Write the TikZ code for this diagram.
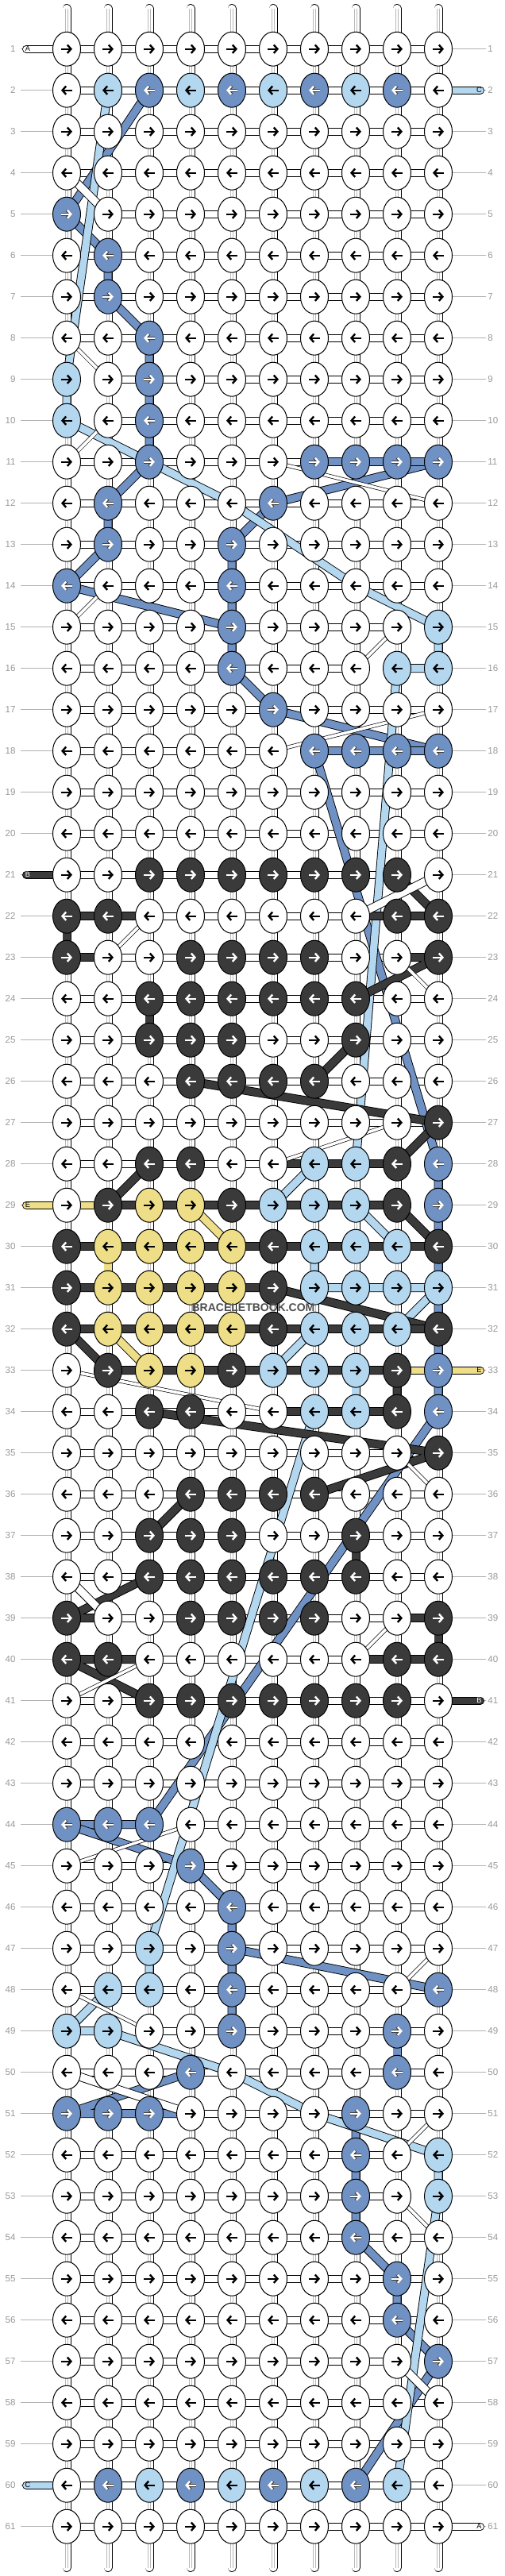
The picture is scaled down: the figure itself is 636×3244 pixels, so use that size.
\documentclass[tikz,border=0pt]{standalone}
\usepackage{fontspec}
\setmainfont{Liberation Sans}
\usetikzlibrary{shapes.geometric, arrows.meta, calc}
\definecolor{cw}{HTML}{FFFFFF}
\definecolor{cl}{HTML}{B4D7F0}
\definecolor{cm}{HTML}{7091C3}
\definecolor{cd}{HTML}{3A3A3A}
\definecolor{cy}{HTML}{EEDE88}
\pgfdeclarelayer{conn}
\pgfdeclarelayer{thread}
\pgfsetlayers{conn,thread,main}

\begin{document}
\begin{tikzpicture}[x=0.5pt, y=-0.5pt,
        hcon/.style={draw=black, line width=0.45pt, double=white, double distance=4.1pt},
        vcon/.style={draw=black, line width=0.45pt, double=white, double distance=4.6pt},
        vmid/.style={draw=gray!55, line width=0.3pt, double=white, double distance=1pt},
        thread/.style={draw=black, line width=0.45pt, double=#1, double distance=4.6pt, line join=round},
        wire/.style={draw=black, line width=0.35pt, double=white, double distance=1.8pt},
        tail/.style={draw=black, line width=0.45pt, double=#1, double distance=4.1pt, line cap=round},
        rowline/.style={draw=gray!60, line width=0.5pt},
        rowlab/.style={text=gray!80, inner sep=0pt, font=\fontsize{5.8pt}{6pt}\selectfont},
        taillab/.style={inner sep=0pt, font=\fontsize{4.6pt}{5pt}\selectfont},
        arw/.style={draw=black, line width=1.2pt, -{Straight Barb[length=2.3pt,width=5.2pt]}},
        arl/.style={arw}, ary/.style={arw},
        ard/.style={arw, draw=white},
        arm/.style={arw, draw=white, preaction={draw=black!75, line width=1.8pt, -{Straight Barb[length=2.3pt,width=5.2pt]}}}]
    \tikzstyle{knot}=[ellipse, draw=black, line width=0.5pt, minimum width=17.5pt, minimum height=21.5pt, inner sep=0pt]
    \tikzstyle{kw}=[knot, fill=cw]
    \tikzstyle{kl}=[knot, fill=cl]
    \tikzstyle{km}=[knot, fill=cm]
    \tikzstyle{kd}=[knot, fill=cd]
    \tikzstyle{ky}=[knot, fill=cy]
    \useasboundingbox (0,0) rectangle (636,3244);

    % knots, one row at a time
    \foreach \r/\row in {
        1/{w,w,w,w,w,w,w,w,w,w}, 2/{w,l,m,l,m,l,m,l,m,w}, 3/{w,w,w,w,w,w,w,w,w,w},
        4/{w,w,w,w,w,w,w,w,w,w}, 5/{m,w,w,w,w,w,w,w,w,w}, 6/{w,m,w,w,w,w,w,w,w,w},
        7/{w,m,w,w,w,w,w,w,w,w}, 8/{w,w,m,w,w,w,w,w,w,w}, 9/{l,w,m,w,w,w,w,w,w,w},
        10/{l,w,m,w,w,w,w,w,w,w}, 11/{w,w,m,w,w,w,m,m,m,m}, 12/{w,m,w,w,w,m,w,w,w,w},
        13/{w,m,w,w,m,w,w,w,w,w}, 14/{m,w,w,w,m,w,w,w,w,w}, 15/{w,w,w,w,m,w,w,w,w,l},
        16/{w,w,w,w,m,w,w,w,l,l}, 17/{w,w,w,w,w,m,w,w,w,w}, 18/{w,w,w,w,w,w,m,m,m,m},
        19/{w,w,w,w,w,w,w,w,w,w}, 20/{w,w,w,w,w,w,w,w,w,w}, 21/{w,w,d,d,d,d,d,d,d,w},
        22/{d,d,w,w,w,w,w,w,d,d}, 23/{d,w,w,d,d,d,d,w,w,d}, 24/{w,w,d,d,d,d,d,d,w,w},
        25/{w,w,d,d,d,w,w,d,w,w}, 26/{w,w,w,d,d,d,d,w,w,w}, 27/{w,w,w,w,w,w,w,w,w,d},
        28/{w,w,d,d,w,w,l,l,d,m}, 29/{w,d,y,y,d,l,l,l,d,m}, 30/{d,y,y,y,y,d,l,l,l,d},
        31/{d,y,y,y,y,d,l,l,l,l}, 32/{d,y,y,y,y,d,l,l,l,d}, 33/{w,d,y,y,d,l,l,l,d,m},
        34/{w,w,d,d,w,w,l,l,d,m}, 35/{w,w,w,w,w,w,w,w,w,d}, 36/{w,w,w,d,d,d,d,w,w,w},
        37/{w,w,d,d,d,w,w,d,w,w}, 38/{w,w,d,d,d,d,d,d,w,w}, 39/{d,w,w,d,d,d,d,w,w,d},
        40/{d,d,w,w,w,w,w,w,d,d}, 41/{w,w,d,d,d,d,d,d,d,w}, 42/{w,w,w,w,w,w,w,w,w,w},
        43/{w,w,w,w,w,w,w,w,w,w}, 44/{m,m,m,w,w,w,w,w,w,w}, 45/{w,w,w,m,w,w,w,w,w,w},
        46/{w,w,w,w,m,w,w,w,w,w}, 47/{w,w,l,w,m,w,w,w,w,w}, 48/{w,l,l,w,m,w,w,w,w,m},
        49/{l,l,w,w,m,w,w,w,m,w}, 50/{w,w,w,m,w,w,w,w,m,w}, 51/{m,m,m,w,w,w,w,m,w,w},
        52/{w,w,w,w,w,w,w,m,w,l}, 53/{w,w,w,w,w,w,w,m,w,l}, 54/{w,w,w,w,w,w,w,m,w,w},
        55/{w,w,w,w,w,w,w,w,m,w}, 56/{w,w,w,w,w,w,w,w,m,w}, 57/{w,w,w,w,w,w,w,w,w,m},
        58/{w,w,w,w,w,w,w,w,w,w}, 59/{w,w,w,w,w,w,w,w,w,w}, 60/{w,m,l,m,l,m,l,m,l,w},
        61/{w,w,w,w,w,w,w,w,w,w}}{
        \foreach \k [count=\c] in \row {
            \node[k\k] (k-\r-\c) at ({84+52*(\c-1)},{61.7+52*(\r-1)}) {};
            \ifodd\r \def\dir{1}\else\def\dir{-1}\fi
            \draw[ar\k] (k-\r-\c.center) ++({-7*\dir},0) -- ++({14*\dir},0);
        }
        \coordinate (lft-\r) at (26,{61.7+52*(\r-1)});
        \coordinate (rgt-\r) at (612,{61.7+52*(\r-1)});
        \node[rowlab, anchor=east] (nl-\r) at (20,{61.7+52*(\r-1)}) {\r};
        \node[rowlab, anchor=west] (nr-\r) at (614,{61.7+52*(\r-1)}) {\r};
    }

    % gaps in the row strings
    \foreach \s in {5-1,9-1,10-1,15-9,16-8,18-6,21-9,28-9,29-9,31-6,33-1,34-9,44-3,49-2,52-9,53-9,57-9}{
        \expandafter\gdef\csname nh\s\endcsname{}
    }

    \begin{pgfonlayer}{conn}
        \foreach \r in {1,...,61}{
            \draw[rowline] (lft-\r) -- (k-\r-1.center);
            \draw[rowline] (k-\r-10.center) -- (rgt-\r);
            \foreach \c in {1,...,9}{
                \pgfmathtruncatemacro\d{\c+1}
                \ifcsname nh\r-\c\endcsname\else
                    \draw[hcon] (k-\r-\c.center) -- (k-\r-\d.center);
                \fi
            }
        }
        \foreach \r in {1,...,60}{
            \pgfmathtruncatemacro\s{\r+1}
            \foreach \c in {1,...,10}{
                \draw[vcon] (k-\r-\c.center) -- (k-\s-\c.center);
                \draw[vmid] (k-\r-\c.center) -- (k-\s-\c.center);
            }
        }
        \foreach \c in {1,...,10}{
            \coordinate (top-\c) at ({84+52*(\c-1)},10.5);
            \coordinate (bot-\c) at ({84+52*(\c-1)},3233.5);
            \draw[vcon, line cap=round] (top-\c) -- (k-1-\c.center);
            \draw[vmid] (top-\c) -- (k-1-\c.center);
            \draw[vcon, line cap=round] (k-61-\c.center) -- (bot-\c);
            \draw[vmid] (k-61-\c.center) -- (bot-\c);
        }
    \end{pgfonlayer}

    \begin{pgfonlayer}{thread}
        % added strings at the edges
        \coordinate (tA1) at (33,61.7);
        \coordinate (tC1) at (605,113.7);
        \coordinate (tB1) at (33,1101.7);
        \coordinate (tE1) at (33,1517.7);
        \coordinate (tE2) at (605,1725.7);
        \coordinate (tB2) at (605,2141.7);
        \coordinate (tC2) at (33,3129.7);
        \coordinate (tA2) at (605,3181.7);
        \draw[tail=cw] (tA1) -- (k-1-1.center);
        \draw[tail=cl] (k-2-10.center) -- (tC1);
        \draw[tail=cd] (tB1) -- (k-21-1.center);
        \draw[tail=cy] (tE1) -- (k-29-2.center);
        \draw[tail=cy] (k-33-9.center) -- (tE2);
        \draw[tail=cd] (k-41-10.center) -- (tB2);
        \draw[tail=cl] (tC2) -- (k-60-1.center);
        \draw[tail=cw] (k-61-10.center) -- (tA2);

        % medium blue
        \draw[thread=cm] (k-2-3.center) -- (k-5-1.center) -- (k-6-2.center) -- (k-7-2.center) -- (k-8-3.center) -- (k-11-3.center);
        \draw[thread=cm] (k-11-3.center) -- (k-12-2.center) -- (k-13-2.center) -- (k-14-1.center) -- (k-15-5.center);
        \draw[thread=cm] (k-12-6.center) -- (k-13-5.center) -- (k-16-5.center) -- (k-17-6.center) -- (k-18-10.center);
        \draw[thread=cm] (k-12-6.center) -- (k-11-10.center);
        \draw[thread=cm] (k-11-7.center) -- (k-11-10.center);
        \draw[thread=cm] (k-18-7.center) -- (k-18-10.center);
        \draw[thread=cm] (k-18-7.center) -- (k-28-10.center) -- (k-34-10.center) -- (k-44-3.center) -- (k-44-1.center);
        \draw[thread=cm] (k-44-1.center) -- (k-45-4.center) -- (k-46-5.center) -- (k-49-5.center);
        \draw[thread=cm] (k-47-5.center) -- (k-48-10.center);
        \draw[thread=cm] (k-49-9.center) -- (k-50-9.center);
        \draw[thread=cm] (k-50-4.center) -- (k-51-1.center) -- (k-51-4.center);
        \draw[thread=cm] (k-51-8.center) -- (k-54-8.center) -- (k-55-9.center) -- (k-56-9.center) -- (k-57-10.center) -- (k-60-8.center);

        % light blue
        \draw[thread=cl] (k-2-2.center) -- (k-9-1.center) -- (k-10-1.center) -- (k-11-3.center) -- (k-12-5.center) -- (k-14-8.center) -- (k-15-10.center) -- (k-16-10.center) -- (k-16-9.center) -- (k-28-8.center);
        \draw[thread=cl] (k-28-7.center) -- (k-29-6.center);
        \draw[thread=cl] (k-29-8.center) -- (k-30-9.center);
        \draw[thread=cl] (k-30-7.center) -- (k-31-7.center) -- (k-31-10.center) -- (k-32-9.center);
        \draw[thread=cl] (k-32-7.center) -- (k-33-6.center);
        \draw[thread=cl] (k-33-8.center) -- (k-34-8.center);
        \draw[thread=cl] (k-34-7.center) -- (k-47-3.center) -- (k-48-3.center);
        \draw[thread=cl] (k-48-2.center) -- (k-49-1.center) -- (k-49-2.center) -- (k-50-5.center) -- (k-51-7.center) -- (k-52-10.center) -- (k-53-10.center) -- (k-60-9.center);

        % dark
        \draw[thread=cd] (k-22-3.center) -- (k-22-1.center) -- (k-23-1.center) -- (k-23-2.center);
        \draw[thread=cd] (k-21-9.center) -- (k-22-10.center);
        \draw[thread=cd] (k-22-8.center) -- (k-22-10.center);
        \draw[thread=cd] (k-23-9.center) -- (k-23-10.center) -- (k-24-8.center);
        \draw[thread=cd] (k-24-3.center) -- (k-25-3.center);
        \draw[thread=cd] (k-25-8.center) -- (k-26-7.center);
        \draw[thread=cd] (k-26-4.center) -- (k-27-10.center) -- (k-28-9.center);
        \draw[thread=cd] (k-28-3.center) -- (k-29-2.center);
        \draw[thread=cd] (k-28-6.center) -- (k-28-9.center);
        \draw[thread=cd] (k-29-2.center) -- (k-29-9.center) -- (k-30-10.center);
        \draw[thread=cd] (k-30-1.center) -- (k-30-10.center);
        \draw[thread=cd] (k-31-1.center) -- (k-31-6.center) -- (k-32-10.center);
        \draw[thread=cd] (k-32-1.center) -- (k-32-10.center);
        \draw[thread=cd] (k-32-1.center) -- (k-33-2.center) -- (k-33-9.center) -- (k-34-9.center);
        \draw[thread=cd] (k-34-6.center) -- (k-34-9.center);
        \draw[thread=cd] (k-34-3.center) -- (k-35-10.center) -- (k-36-7.center);
        \draw[thread=cd] (k-36-4.center) -- (k-37-3.center);
        \draw[thread=cd] (k-37-8.center) -- (k-38-8.center);
        \draw[thread=cd] (k-38-3.center) -- (k-39-1.center) -- (k-39-2.center);
        \draw[thread=cd] (k-39-9.center) -- (k-39-10.center) -- (k-40-10.center) -- (k-40-8.center);
        \draw[thread=cd] (k-40-3.center) -- (k-40-1.center) -- (k-41-3.center);

        % yellow
        \draw[thread=cy] (k-29-4.center) -- (k-30-5.center);
        \draw[thread=cy] (k-30-2.center) -- (k-31-2.center);
        \draw[thread=cy] (k-32-2.center) -- (k-33-3.center);

        % white crossings
        \draw[thread=white] (k-4-1.center) -- (k-5-2.center);
        \draw[thread=white] (k-21-10.center) -- (k-22-8.center);
        \draw[thread=white] (k-38-1.center) -- (k-39-2.center);
        \draw[thread=white] (k-50-1.center) -- (k-51-4.center);
        \draw[thread=white] (k-57-9.center) -- (k-58-10.center);
        \draw[wire] (k-8-1.center) -- (k-9-2.center);
        \draw[wire] (k-10-2.center) -- (k-11-1.center);
        \draw[wire] (k-11-6.center) -- (k-12-10.center);
        \draw[wire] (k-14-2.center) -- (k-15-1.center);
        \draw[wire] (k-15-9.center) -- (k-16-8.center);
        \draw[wire] (k-17-10.center) -- (k-18-6.center);
        \draw[wire] (k-22-3.center) -- (k-23-2.center);
        \draw[wire] (k-23-9.center) -- (k-24-10.center);
        \draw[wire] (k-27-9.center) -- (k-28-6.center);
        \draw[wire] (k-33-1.center) -- (k-34-6.center);
        \draw[wire] (k-35-9.center) -- (k-36-10.center);
        \draw[wire] (k-39-9.center) -- (k-40-8.center);
        \draw[wire] (k-40-3.center) -- (k-41-1.center);
        \draw[wire] (k-44-4.center) -- (k-45-1.center);
        \draw[wire] (k-47-10.center) -- (k-48-9.center);
        \draw[wire] (k-48-1.center) -- (k-49-3.center);
        \draw[wire] (k-51-10.center) -- (k-52-9.center);
        \draw[wire] (k-53-9.center) -- (k-54-10.center);
    \end{pgfonlayer}

    % letters on the added strings
    \node[taillab] (lA1) at (35,61.7) {A};
    \node[taillab] (lC1) at (603.5,113.7) {C};
    \node[taillab, text=white] (lB1) at (35,1101.7) {B};
    \node[taillab] (lE1) at (35,1517.7) {E};
    \node[taillab] (lE2) at (603.5,1725.7) {E};
    \node[taillab, text=white] (lB2) at (603.5,2141.7) {B};
    \node[taillab] (lC2) at (35,3129.7) {C};
    \node[taillab] (lA2) at (603.5,3181.7) {A};

    \node[font=\bfseries\fontsize{7pt}{7pt}\selectfont, text=cd!90, inner sep=0pt] (mark) at (319,1647) {BRACELETBOOK.COM};
\end{tikzpicture}
\end{document}
